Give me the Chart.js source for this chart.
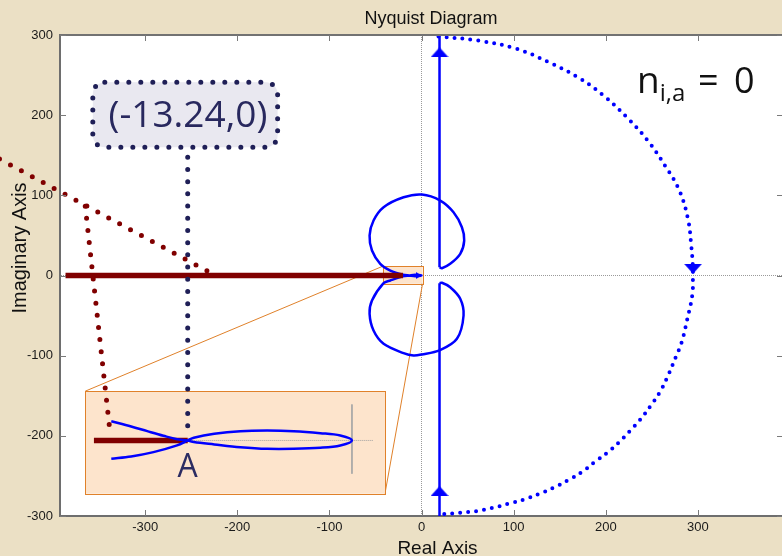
<!DOCTYPE html>
<html>
<head>
<meta charset="utf-8">
<title>Nyquist Diagram</title>
<script src="https://cdn.jsdelivr.net/npm/chart.js@4.4.1/dist/chart.umd.min.js"></script>
<style>
  html, body { margin: 0; padding: 0; overflow: hidden; width: 782px; height: 556px; background: #ebe0c5; }
  #wrap { position: relative; width: 800px; height: 556px; }
</style>
</head>
<body>
<div id="wrap"><canvas id="nyq" width="800" height="556"></canvas></div>
<script>
// ---------- axes ----------
const realRange = [-392.4, 392.3];
const imagRange = [-300, 300];
const realTicks = [-300, -200, -100, 0, 100, 200, 300];
const imagTicks = [-300, -200, -100, 0, 100, 200, 300];

// ---------- Nyquist curve (real, imaginary) ----------
// upper stem (omega -> 0+), coming down from +j infinity
const upperStemRe = [19.5, 19.5];
const upperStemIm = [300, 10.3];
// loops around the origin, through the crossing at -13.24
const loopRe = [19.5, 22.1, 31.1, 42.0, 46.3, 43.8, 34.7, 20.3, 0.4, -19.5, -41.2, -52.1, -56.4, -53.8, -44.8, -33.9, -20.2, -13.24,
                -7.0, 0, -7.0,
                -13.24, -20.2, -33.9, -41.2, -53.8, -56.4, -52.1, -41.2, -19.5, -8.7, 0.4, 19.5, 38.4, 45.6, 42.0, 31.1, 22.1, 19.5];
const loopIm = [10.3, 9.1, 14.6, 27.1, 43.6, 60.2, 78.9, 93.5, 101.0, 97.6, 85.2, 68.6, 49.9, 31.2, 14.6, 6.2, 0.9, 0,
                -0.8, 0, 0.8,
                0, -0.9, -6.2, -9.6, -31.2, -47.8, -68.6, -85.2, -96.9, -99.8, -98.5, -93.5, -79.0, -49.9, -29.0, -14.6, -9.1, -9.6];
// lower stem, going down to -j infinity
const lowerStemRe = [19.5, 19.5];
const lowerStemIm = [-9.6, -300];
// closing contour at infinity (dotted)
const arcRe = [18.4, 61.8, 103.5, 136.7, 168.5, 196.3, 222.0, 245.5, 265.4, 279.8, 289.3, 292.8, 294.3, 294.5,
               293.9, 288.5, 282.4, 276.2, 266.8, 258.2, 248.1, 237.2, 225.6, 213.7, 201.1, 187.3, 173.9, 158.8,
               143.2, 126.9, 110.6, 94.4, 76.3, 59.3, 42.0, 23.9];
const arcIm = [298.0, 293.0, 282.6, 266.8, 248.1, 225.7, 198.3, 168.3, 135.0, 106.0, 69.8, 36.2, 14.6, 0,
               -23.7, -54.0, -83.1, -101.0, -126.8, -146.3, -163.3, -180.0, -194.5, -208.6, -221.5, -233.2, -245.3, -255.6,
               -264.8, -272.7, -279.7, -284.7, -290.1, -293.9, -295.9, -297.6];
// direction arrows: position and heading (degrees, 0 = up)
const arrowRe = [19.5, 19.5, 294.7, -3.0];
const arrowIm = [278.4, -268.9, 8.35, 0];
const arrowHeading = [0, 0, 180, 90];

// ---------- real-axis segment and callout ----------
const segmentRe = [-386.4, -20.2];
const segmentIm = [0, 0];
const crossingLabel = '(-13.24,0)';
const crossingRe = -13.24;
const countLabel = { base: 'n', sub: 'i,a', eq: '=', value: '0' };
// dotted leaders
const diagLeaderRe = [-458, -231.7];
const diagLeaderIm = [145.3, 5.0];
const dropLeaderRe = [-365, -338.7];
const dropLeaderIm = [86.5, -189.1];
const calloutLeaderRe = [-253.8, -253.8];
const calloutLeaderIm = [147.5, -190.4];
const calloutBoxRe = [-356.8, -156.2];
const calloutBoxIm = [160.0, 241.0];

// ---------- magnified view near the origin ----------
const zoomBoxRe = [-42, 1.1];
const zoomBoxIm = [-10.3, 11.6];
const insetFrameRe = [-365, -39.7];      // placement, in main-plot units
const insetFrameIm = [-272.2, -144.3];
const insetViewRe = [-21.5, 2.66];       // plane region shown inside it
const insetViewIm = [-4.29, 3.97];
const insetCurveRe = [-19.4, -17.8, -16.5, -15.2, -14.1, -13.24, -12.75, -11.1, -9.0, -6.84, -4.7, -2.55, -0.94, 0,
                      -0.94, -2.55, -4.7, -6.84, -9.0, -11.1, -12.75, -13.24, -14.1, -16.0, -17.8, -19.4];
const insetCurveIm = [1.55, 1.13, 0.75, 0.38, 0.10, 0, -0.13, -0.32, -0.54, -0.67, -0.67, -0.59, -0.40, 0,
                      0.40, 0.59, 0.75, 0.80, 0.75, 0.54, 0.22, 0, -0.40, -0.94, -1.29, -1.47];
const insetSegmentRe = [-20.8, -13.24];
const insetSegmentIm = [0, 0];
const insetAxisHRe = [-13.24, 1.74];
const insetAxisHIm = [0, 0];
const insetAxisVRe = [0, 0];
const insetAxisVIm = [2.9, -2.68];

// ---------- helpers ----------
const pts = (xs, ys) => xs.map((x, i) => ({ x, y: ys[i] }));
function viewLimits(range, frame, view) {
  const k = (view[1] - view[0]) / (frame[1] - frame[0]);
  return [view[0] + (range[0] - frame[0]) * k, view[0] + (range[1] - frame[0]) * k];
}
const insetX = viewLimits(realRange, insetFrameRe, insetViewRe);
const insetY = viewLimits(imagRange, insetFrameIm, insetViewIm);

const BLUE = '#0000ff', DARKRED = '#800000', NAVY = '#1f1f57', PEACH = '#fde4cc', ORANGE = '#e0812a';

function triangle(w, h, color) {
  const c = document.createElement('canvas');
  c.width = w; c.height = h;
  const g = c.getContext('2d');
  g.fillStyle = color;
  g.beginPath(); g.moveTo(w / 2, 0); g.lineTo(w, h); g.lineTo(0, h); g.closePath(); g.fill();
  return c;
}
const bigHead = triangle(18, 10, BLUE);
const smallHead = triangle(7, 6, BLUE);

const solid = (data, color, width, extra) => Object.assign({
  data, showLine: true, borderColor: color, borderWidth: width, pointRadius: 0, fill: false, tension: 0
}, extra || {});
const dotted = (data, color, width, gap, extra) => solid(data, color, width,
  Object.assign({ borderDash: [0, gap], borderCapStyle: 'round' }, extra || {}));

// ---------- decorations drawn through the scales ----------
const decor = {
  id: 'decor',
  beforeDraw(chart) {
    const { ctx, chartArea: a } = chart;
    ctx.save();
    ctx.fillStyle = '#ffffff';
    ctx.fillRect(a.left, a.top, a.right - a.left, a.bottom - a.top);
    ctx.restore();
  },
  beforeDatasetsDraw(chart) {
    const { ctx } = chart;
    const X = v => chart.scales.x.getPixelForValue(v);
    const Y = v => chart.scales.y.getPixelForValue(v);
    ctx.save();
    ctx.lineWidth = 1;
    ctx.strokeStyle = ORANGE;
    // connectors between the highlighted box and the magnified view
    ctx.beginPath();
    ctx.moveTo(X(zoomBoxRe[0]), Y(zoomBoxIm[1])); ctx.lineTo(X(insetFrameRe[0]), Y(insetFrameIm[1]));
    ctx.moveTo(X(zoomBoxRe[1]), Y(zoomBoxIm[0])); ctx.lineTo(X(insetFrameRe[1]), Y(insetFrameIm[0]));
    ctx.stroke();
    const box = (re, im) => {
      const x0 = X(re[0]), x1 = X(re[1]), y0 = Y(im[1]), y1 = Y(im[0]);
      ctx.fillStyle = PEACH;
      ctx.fillRect(x0, y0, x1 - x0, y1 - y0);
      ctx.strokeRect(Math.round(x0) + 0.5, Math.round(y0) + 0.5, Math.round(x1 - x0), Math.round(y1 - y0));
    };
    box(zoomBoxRe, zoomBoxIm);
    box(insetFrameRe, insetFrameIm);
    ctx.restore();
  },
  afterDatasetsDraw(chart) {
    const { ctx, chartArea: a } = chart;
    const xs = chart.scales.x, ys = chart.scales.y;
    const X = v => xs.getPixelForValue(v);
    const Y = v => ys.getPixelForValue(v);
    ctx.save();
    // top and right edges of the axes box
    ctx.strokeStyle = '#727272';
    ctx.lineWidth = 2;
    ctx.beginPath(); ctx.moveTo(a.left, a.top); ctx.lineTo(a.right, a.top); ctx.lineTo(a.right, a.bottom); ctx.stroke();
    // inward tick marks on all four sides
    ctx.strokeStyle = '#7a7a7a';
    ctx.lineWidth = 1;
    ctx.beginPath();
    xs.ticks.forEach(t => {
      const x = Math.round(X(t.value)) + 0.5;
      ctx.moveTo(x, a.bottom); ctx.lineTo(x, a.bottom - 6);
      ctx.moveTo(x, a.top); ctx.lineTo(x, a.top + 6);
    });
    ys.ticks.forEach(t => {
      const y = Math.round(Y(t.value)) + 0.5;
      ctx.moveTo(a.left, y); ctx.lineTo(a.left + 6, y);
      ctx.moveTo(a.right, y); ctx.lineTo(a.right - 6, y);
    });
    ctx.stroke();

    // callout box with dotted rounded border
    const bx0 = X(calloutBoxRe[0]), bx1 = X(calloutBoxRe[1]);
    const by0 = Y(calloutBoxIm[1]), by1 = Y(calloutBoxIm[0]);
    const r = 12;
    ctx.beginPath();
    ctx.moveTo(bx0 + r, by0);
    ctx.lineTo(bx1 - r, by0); ctx.arcTo(bx1, by0, bx1, by0 + r, r);
    ctx.lineTo(bx1, by1 - r); ctx.arcTo(bx1, by1, bx1 - r, by1, r);
    ctx.lineTo(bx0 + r, by1); ctx.arcTo(bx0, by1, bx0, by1 - r, r);
    ctx.lineTo(bx0, by0 + r); ctx.arcTo(bx0, by0, bx0 + r, by0, r);
    ctx.closePath();
    ctx.fillStyle = '#e9e8f0';
    ctx.fill();
    ctx.setLineDash([0, 12]);
    ctx.lineCap = 'round';
    ctx.lineWidth = 5;
    ctx.strokeStyle = NAVY;
    ctx.stroke();
    ctx.setLineDash([]);

    ctx.fillStyle = '#28285e';
    ctx.font = '37px "Open Sans", "Noto Sans", sans-serif';
    ctx.textAlign = 'center';
    ctx.textBaseline = 'alphabetic';
    ctx.fillText(crossingLabel, X(-253.6), Y(184.9));

    // crossing point label inside the magnified view
    const xi = chart.scales.xi, yi = chart.scales.yi;
    ctx.font = '32px "Open Sans", "Noto Sans", sans-serif';
    ctx.fillStyle = '#2c2c62';
    ctx.fillText('A', xi.getPixelForValue(crossingRe), yi.getPixelForValue(-2.95));

    // encirclement count
    ctx.fillStyle = '#111111';
    ctx.textAlign = 'left';
    const nx = X(233.9), ny = Y(228.2);
    ctx.font = '37px "Open Sans", "Noto Sans", sans-serif';
    ctx.fillText(countLabel.base, nx, ny);
    const nw = ctx.measureText(countLabel.base).width;
    ctx.font = '24px "Open Sans", "Noto Sans", sans-serif';
    ctx.fillText(countLabel.sub, nx + nw, ny + 8);
    ctx.font = '36px "Open Sans", "Noto Sans", sans-serif';
    ctx.fillText(countLabel.eq, nx + 61, ny);
    ctx.fillText(countLabel.value, nx + 97, ny);

    // title and axis labels
    ctx.fillStyle = '#111111';
    ctx.textAlign = 'center';
    ctx.font = '18px "Liberation Sans", Arial, sans-serif';
    ctx.fillText('Nyquist Diagram', 431, 24);
    ctx.font = '19px "Liberation Sans", Arial, sans-serif';
    ctx.fillText('Real Axis', 437.5, 554);
    ctx.font = '20px "Liberation Sans", Arial, sans-serif';
    ctx.translate(26, 248);
    ctx.rotate(-Math.PI / 2);
    ctx.fillText('Imaginary Axis', 0, 0);
    ctx.restore();
  }
};

Chart.defaults.font.family = '"Liberation Sans", Arial, sans-serif';
Chart.defaults.font.size = 13;
Chart.defaults.color = '#1a1a1a';

const originGrid = ctx => (ctx.tick && ctx.tick.value === 0) ? '#9a9a9a' : 'rgba(0,0,0,0)';

new Chart(document.getElementById('nyq'), {
  type: 'scatter',
  data: {
    datasets: [
      // direction arrows (topmost)
      { data: pts(arrowRe, arrowIm), pointRadius: 6, pointStyle: [bigHead, bigHead, bigHead, smallHead],
        pointRotation: arrowHeading, showLine: false, order: 1 },
      // dotted leaders
      dotted(pts(diagLeaderRe, diagLeaderIm), DARKRED, 5, 12.4, { order: 3, clip: false }),
      dotted(pts(dropLeaderRe, dropLeaderIm), DARKRED, 5, 12.2, { order: 3, clip: false }),
      dotted(pts(calloutLeaderRe, calloutLeaderIm), NAVY, 5, 12.2, { order: 3 }),
      // real-axis segment
      solid(pts(segmentRe, segmentIm), DARKRED, 5.5, { order: 4 }),
      // Nyquist curve
      solid(pts(upperStemRe, upperStemIm), BLUE, 2.5, { order: 5 }),
      solid(pts(loopRe, loopIm), BLUE, 2.5, { order: 5, tension: 0.3 }),
      solid(pts(lowerStemRe, lowerStemIm), BLUE, 2.5, { order: 5 }),
      dotted(pts(arcRe, arcIm), BLUE, 4, 8, { order: 5, tension: 0.4 }),
      // magnified view
      solid(pts(insetCurveRe, insetCurveIm), BLUE, 2.5, { order: 6, tension: 0.35, xAxisID: 'xi', yAxisID: 'yi' }),
      solid(pts(insetSegmentRe, insetSegmentIm), DARKRED, 5.5, { order: 7, xAxisID: 'xi', yAxisID: 'yi' }),
      solid(pts(insetAxisHRe, insetAxisHIm), '#a0a0a0', 1, { order: 8, borderDash: [1, 1], xAxisID: 'xi', yAxisID: 'yi' }),
      solid(pts(insetAxisVRe, insetAxisVIm), '#a8a8a8', 1, { order: 8, xAxisID: 'xi', yAxisID: 'yi' })
    ]
  },
  options: {
    responsive: false,
    animation: false,
    events: [],
    layout: { padding: { top: 35, right: 17, bottom: 0, left: 0 } },
    plugins: { legend: { display: false }, title: { display: false }, tooltip: { enabled: false } },
    scales: {
      x: {
        type: 'linear', position: 'bottom', min: realRange[0], max: realRange[1],
        afterBuildTicks: s => { s.ticks = realTicks.map(v => ({ value: v })); },
        afterFit: s => { s.height = 40; },
        ticks: { padding: 4, font: { size: 13 } },
        grid: { drawTicks: false, color: originGrid, lineWidth: 1 },
        border: { color: '#6e6e6e', width: 2, dash: [1, 1] }
      },
      y: {
        type: 'linear', position: 'left', min: imagRange[0], max: imagRange[1],
        afterBuildTicks: s => { s.ticks = imagTicks.map(v => ({ value: v })); },
        afterFit: s => { s.width = 60; },
        ticks: { padding: 7, font: { size: 13 } },
        grid: { drawTicks: false, color: originGrid, lineWidth: 1 },
        border: { color: '#6e6e6e', width: 2, dash: [1, 1] }
      },
      xi: { type: 'linear', axis: 'x', position: 'bottom', display: false, min: insetX[0], max: insetX[1] },
      yi: { type: 'linear', axis: 'y', position: 'left', display: false, min: insetY[0], max: insetY[1] }
    }
  },
  plugins: [decor]
});
</script>
</body>
</html>
